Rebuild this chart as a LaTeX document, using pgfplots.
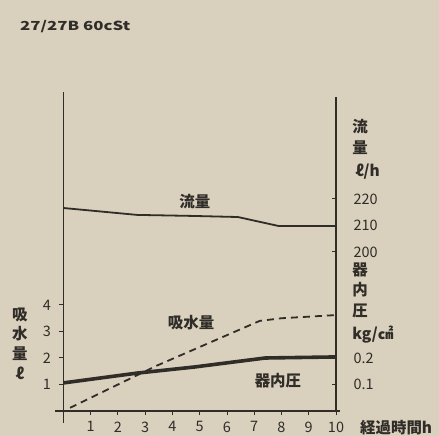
\documentclass[border=0pt]{standalone}
\usepackage{fontspec}
\setmainfont{Noto Sans CJK JP}
\usepackage{pgfplots}
\pgfplotsset{compat=1.18}
\usepackage{pgfplotstable}
\definecolor{paper}{RGB}{217,209,190}
\definecolor{ink}{RGB}{48,44,40}

% flow (l/h), right scale: 200 -> 6, 210 -> 7, 220 -> 8
\pgfplotstableread{
t    flow
0    216.6
2.7  214.0
4.8  213.6
6.4  213.2
7.9  209.8
10   209.8
}\flowtab
% water absorption (l), left scale
\pgfplotstableread{
t    water
0.24 0.12
3.4  1.70
7.2  3.40
8    3.50
10   3.62
}\watertab
% pressure (kg/cm2), right scale: 0.1 -> 1, 0.2 -> 2
\pgfplotstableread{
t    press
0    0.106
2.7  0.143
4.8  0.166
7.4  0.200
10   0.204
}\presstab

\begin{document}
\begin{tikzpicture}
\fill[paper] (-63.5bp,-25bp) rectangle (375.5bp,411bp);
\begin{axis}[
    at={(0,0)}, anchor=south west,
    scale only axis, width=272.5bp, height=318bp,
    xmin=0, xmax=10, ymin=0, ymax=12,
    axis x line=bottom, axis y line=left,
    axis line style={draw=none},
    clip=false,
    xtick={1,...,10}, ytick={1,2,3,4},
    tick align=outside, major tick length=4bp,
    tick style={ink, line width=1bp},
    ticklabel style={font=\fontsize{14.5}{15}\selectfont, text=ink},
    yticklabel style={xshift=-5bp},
    xticklabel style={yshift=-3bp},
    /pgf/number format/assume math mode=true,
    ]
\draw[ink, line width=1.4bp] (axis cs:-0.31,0) -- (axis cs:10.15,0);
\draw[ink, line width=1.4bp] (axis cs:0,-0.45) -- (axis cs:0,12.04);
\draw[ink, line width=1.4bp] (axis cs:10,0) -- (axis cs:10,11.85);
% right axis ticks (inside)
\pgfplotsinvokeforeach{1,2,6,7,8}{\draw[ink, line width=1bp] (axis cs:10,#1) -- ++(-4bp,0);}

\addplot[ink, line width=1.8bp] table[x=t, y expr=6+(\thisrow{flow}-200)/10] {\flowtab};
\addplot[ink, line width=1.8bp, dash pattern=on 7bp off 5bp] table[x=t, y=water] {\watertab};
\addplot[ink, line width=3.6bp] table[x=t, y expr=10*\thisrow{press}] {\presstab};

\begin{scope}[every node/.style={text=ink, font=\fontsize{15.5}{16}\selectfont\bfseries, inner sep=0pt}]
\node at (axis cs:4.82,7.89) {流量};
\node at (axis cs:4.68,3.32) {吸水量};
\node at (axis cs:7.87,1.13) {器内圧};
% left label
\node at (axis cs:-1.6,3.62) {吸};
\node at (axis cs:-1.6,2.91) {水};
\node at (axis cs:-1.6,2.15) {量};
\node at (axis cs:-1.6,1.43) {ℓ};
% right labels
\node[anchor=west] at (axis cs:10.59,10.72) {流};
\node[anchor=west] at (axis cs:10.59,9.92) {量};
\node[anchor=west] at (axis cs:10.70,9.02) {ℓ/h};
\node[anchor=west] at (axis cs:10.59,5.32) {器};
\node[anchor=west] at (axis cs:10.59,4.57) {内};
\node[anchor=west] at (axis cs:10.59,3.77) {圧};
\node[anchor=west] at (axis cs:10.59,2.87) {kg/㎠};
\node[anchor=west] at (axis cs:10.88,-0.64) {経過時間h};
\node[anchor=west, font=\fontsize{12.5}{13}\selectfont\bfseries, xscale=1.35] at (axis cs:-1.6,14.49) {27/27B 60cSt};
\end{scope}
\end{axis}
\begin{axis}[
    at={(0,0)}, anchor=south west,
    scale only axis, width=272.5bp, height=318bp,
    xmin=0, xmax=10, ymin=0, ymax=12,
    axis x line=none, axis y line*=right,
    axis line style={draw=none},
    ytick={1,2,6,7,8}, yticklabels={0.1,0.2,200,210,220},
    major tick length=0pt,
    yticklabel style={font=\fontsize{14.5}{15}\selectfont, text=ink, xshift=14bp},
    ]
\end{axis}
\pgfresetboundingbox
\useasboundingbox (-63.5bp,-25bp) rectangle (375.5bp,411bp);
\end{tikzpicture}
\end{document}
